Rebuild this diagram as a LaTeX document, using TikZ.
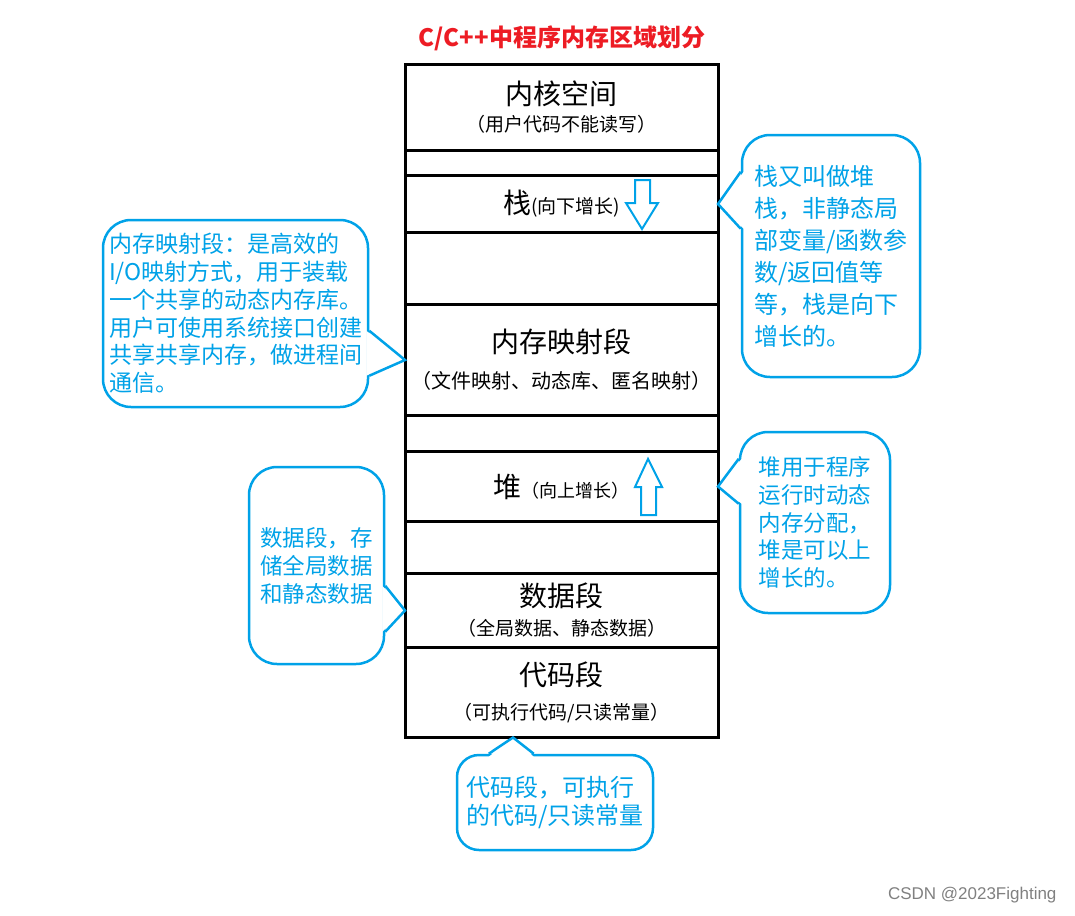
\documentclass[tikz,border=0pt]{standalone}
\usepackage{fontspec}
\setmainfont{Noto Sans CJK SC}
\newfontfamily\wmfont{Liberation Sans}
\usetikzlibrary{positioning,calc}
\definecolor{noteblue}{RGB}{0,162,232}
\definecolor{titlered}{RGB}{237,28,36}

\begin{document}
\begin{tikzpicture}[x=1pt,y=-1pt,
  seg/.style={draw,line width=3pt,minimum width=313pt,inner sep=0pt,outer sep=0pt,align=center,font=\fontsize{28}{34}\selectfont},
  note/.style={draw=noteblue,line width=2.5pt,fill=white,rounded corners=28pt,text=noteblue,align=left,inner sep=0pt},
  notetip/.style={draw=noteblue,line width=2.5pt},
  growarrow/.style={draw=noteblue,line width=2pt}]
\useasboundingbox (0,0) rectangle (1075,915);

% title
\node[text=titlered,font=\fontsize{24}{28}\selectfont\bfseries] (title) at (562,38) {C/C++中程序内存区域划分};

% memory column, top to bottom
\node[seg,minimum height=86pt,anchor=north] (kernel) at (561.5,64.5) {内核空间\\[-7pt]{\fontsize{19}{22}\selectfont （用户代码不能读写）}};
\node[seg,minimum height=25pt,below=0pt of kernel] (gapA) {};
\node[seg,minimum height=57pt,below=0pt of gapA] (stack) {栈{\fontsize{19}{22}\selectfont (向下增长)}};
\node[seg,minimum height=72pt,below=0pt of stack] (gapB) {};
\node[seg,minimum height=111pt,below=0pt of gapB] (mmap) {内存映射段\\[2pt]{\fontsize{20}{24}\selectfont （文件映射、动态库、匿名映射）}};
\node[seg,minimum height=36pt,below=0pt of mmap] (gapC) {};
\node[seg,minimum height=70pt,below=0pt of gapC] (heap) {堆{\fontsize{18}{22}\selectfont （向上增长）}};
\node[seg,minimum height=52pt,below=0pt of heap] (gapD) {};
\node[seg,minimum height=74pt,below=0pt of gapD] (data) {数据段\\[-5pt]{\fontsize{19}{22}\selectfont （全局数据、静态数据）}};
\node[seg,minimum height=90pt,below=0pt of data] (code) {代码段\\[0pt]{\fontsize{19}{22}\selectfont （可执行代码/只读常量）}};

% growth arrows
\draw[growarrow] (635,180) -- (650,180) -- (650,203) -- (658,203) -- (642,229) -- (626,203) -- (635,203) -- cycle;
\draw[growarrow] (641,515) -- (656,515) -- (656,487) -- (662,487) -- (648,459) -- (635,487) -- (641,487) -- cycle;

% callouts
\node[note,minimum width=178pt,minimum height=242pt,font=\fontsize{24}{32}\selectfont] (stacknote) at (831,256)
  {栈又叫做堆\\栈，非静态局\\部变量/函数参\\数/返回值等\\等，栈是向下\\增长的。};
\fill[white] ($(stacknote.north west)+(3,38)$) -- (stack.east) -- ($(stacknote.north west)+(3,95)$) -- cycle;
\draw[notetip] ($(stacknote.north west)+(0,38)$) -- (stack.east) -- ($(stacknote.north west)+(0,95)$);

\node[note,minimum width=265pt,minimum height=187pt,font=\fontsize{23}{27.8}\selectfont] (mmapnote) at (235.5,313.5)
  {内存映射段：是高效的\\I/O映射方式，用于装载\\一个共享的动态内存库。\\用户可使用系统接口创建\\共享共享内存，做进程间\\通信。};
\fill[white] ($(mmapnote.north east)+(-3,112)$) -- (mmap.west) -- ($(mmapnote.north east)+(-3,157)$) -- cycle;
\draw[notetip] ($(mmapnote.north east)+(0,112)$) -- (mmap.west) -- ($(mmapnote.north east)+(0,157)$);

\node[note,minimum width=150pt,minimum height=181pt,font=\fontsize{22.5}{27.8}\selectfont] (heapnote) at (815,522.5)
  {堆用于程序\\运行时动态\\内存分配，\\堆是可以上\\增长的。};
\fill[white] ($(heapnote.north west)+(3,28)$) -- (heap.east) -- ($(heapnote.north west)+(3,73)$) -- cycle;
\draw[notetip] ($(heapnote.north west)+(0,28)$) -- (heap.east) -- ($(heapnote.north west)+(0,73)$);

\node[note,minimum width=135pt,minimum height=197pt,font=\fontsize{22.5}{28}\selectfont] (datanote) at (316.5,565.5)
  {数据段，存\\储全局数据\\和静态数据};
\fill[white] ($(datanote.north east)+(-3,120)$) -- (data.west) -- ($(datanote.north east)+(-3,166)$) -- cycle;
\draw[notetip] ($(datanote.north east)+(0,120)$) -- (data.west) -- ($(datanote.north east)+(0,166)$);

\node[note,rounded corners=22pt,minimum width=196pt,minimum height=95pt,font=\fontsize{24}{28}\selectfont] (codenote) at (555,802.5)
  {代码段，可执行\\的代码/只读常量};
\fill[white] ($(codenote.north west)+(33,3)$) -- ($(code.south west)+(108,0)$) -- ($(codenote.north west)+(78,3)$) -- cycle;
\draw[notetip] ($(codenote.north west)+(33,0)$) -- ($(code.south west)+(108,0)$) -- ($(codenote.north west)+(78,0)$);

% watermark
\node[anchor=east,text=black!50,font=\wmfont\fontsize{17}{20}\selectfont] (mark) at (1060,895) {CSDN @2023Fighting};
\end{tikzpicture}
\end{document}
